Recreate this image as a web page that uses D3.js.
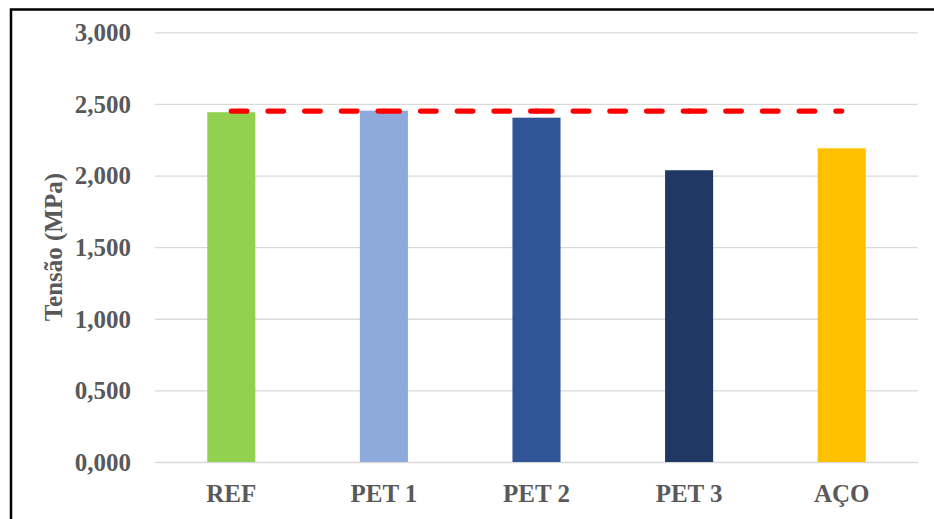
<!DOCTYPE html>
<html>
<head>
<meta charset="utf-8">
<script src="https://cdn.jsdelivr.net/npm/d3@7"></script>
<style>
  html, body { margin: 0; padding: 0; background: #fff; }
  svg { display: block; }
  text { font-family: "Liberation Serif", "Times New Roman", serif; font-weight: bold; fill: #595959; }
</style>
</head>
<body>
<svg id="chart" width="934" height="519"></svg>
<script>
// Tensão por traço
const categories = ["REF", "PET 1", "PET 2", "PET 3", "AÇO"];
const tensao = [2.442, 2.453, 2.404, 2.037, 2.190];
const referencia = [2.45, 2.45, 2.45, 2.45, 2.45];
const barColors = ["#92D050", "#8EA9DB", "#2F5597", "#203864", "#FFC000"];
const yTicks = [0, 0.5, 1.0, 1.5, 2.0, 2.5, 3.0];
const yTitle = "Tensão (MPa)";

const svg = d3.select("#chart");
const W = 934, H = 519;
const plot = { left: 155, right: 918, top: 32.3, bottom: 462 };

// frame around the chart area
svg.append("rect")
  .attr("x", 11).attr("y", 9.5)
  .attr("width", W + 20).attr("height", H + 20)
  .attr("fill", "none").attr("stroke", "#000").attr("stroke-width", 2.5);

const x = d3.scaleBand()
  .domain(categories)
  .range([plot.left, plot.right])
  .paddingInner(0.685)
  .paddingOuter(0.685 / 2);

const y = d3.scaleLinear().domain([0, 3]).range([plot.bottom, plot.top]);

const fmt = v => d3.format(",.3f")(v).replace(".", ",");

// horizontal gridlines + y labels
const yAxis = d3.axisLeft(y)
  .tickValues(yTicks)
  .tickSize(-(plot.right - plot.left))
  .tickPadding(24)
  .tickFormat(fmt);

const gy = svg.append("g")
  .attr("transform", `translate(${plot.left},0)`)
  .call(yAxis);
gy.select(".domain").remove();
gy.selectAll(".tick line").attr("stroke", "#D9D9D9").attr("stroke-width", 1.3);
gy.selectAll(".tick text")
  .attr("font-size", 25)
  .attr("fill", "#595959")
  .attr("font-family", "Liberation Serif, Times New Roman, serif")
  .attr("font-weight", "bold")
  .attr("dy", "0.33em");

// bars
svg.append("g").selectAll("rect")
  .data(categories)
  .join("rect")
  .attr("x", d => x(d))
  .attr("width", x.bandwidth())
  .attr("y", (d, i) => y(tensao[i]))
  .attr("height", (d, i) => y(0) - y(tensao[i]))
  .attr("fill", (d, i) => barColors[i]);

// x labels
const xAxis = d3.axisBottom(x).tickSize(0).tickPadding(0);
const gx = svg.append("g")
  .attr("transform", `translate(0,${plot.bottom})`)
  .call(xAxis);
gx.select(".domain").remove();
gx.selectAll(".tick text")
  .attr("font-size", 25)
  .attr("fill", "#595959")
  .attr("font-family", "Liberation Serif, Times New Roman, serif")
  .attr("font-weight", "bold")
  .attr("dy", 0)
  .attr("y", 39.5);

// reference dashed line, drawn segment by segment between categories
const cx = d => x(d) + x.bandwidth() / 2;
const line = d3.line().x(p => p[0]).y(p => p[1]);
const segs = d3.pairs(categories.map((c, i) => [cx(c), y(referencia[i])]));
svg.append("g").selectAll("path")
  .data(segs)
  .join("path")
  .attr("d", s => line(s))
  .attr("fill", "none")
  .attr("stroke", "#FF0000")
  .attr("stroke-width", 5.3)
  .attr("stroke-linecap", "round")
  .attr("stroke-dasharray", "15.5 21.2");

// y axis title
svg.append("text")
  .attr("transform", `translate(62,${(plot.top + plot.bottom) / 2}) rotate(-90)`)
  .attr("text-anchor", "middle")
  .attr("font-size", 25)
  .text(yTitle);
</script>
</body>
</html>
